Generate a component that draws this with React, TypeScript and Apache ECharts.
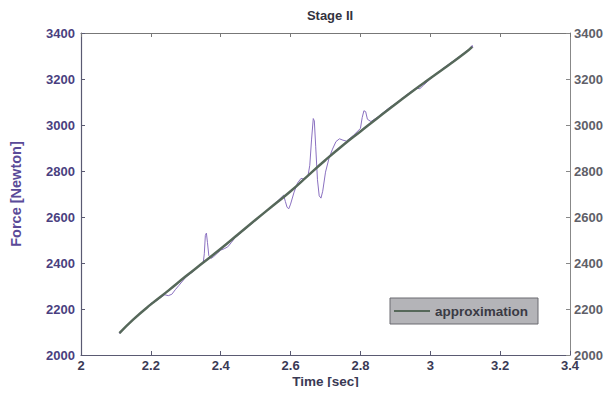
import React, { useEffect, useRef } from "react";
import * as echarts from "echarts";

const titleText = "Stage II";
const xName = "Time [sec]";
const yName = "Force [Newton]";
const legendName = "approximation";

const approxTime = [2.11, 2.15, 2.2, 2.25, 2.3, 2.35, 2.4, 2.45, 2.5, 2.55, 2.6, 2.65, 2.7, 2.75, 2.8, 2.85, 2.9, 2.95, 3.0, 3.05, 3.1, 3.12];
const approxForce = [2095, 2155, 2220, 2280, 2342, 2402, 2462, 2525, 2588, 2650, 2712, 2780, 2848, 2912, 2972, 3032, 3090, 3148, 3203, 3258, 3314, 3340];

const measTime = [
  2.11, 2.13, 2.16, 2.19, 2.2, 2.21, 2.22, 2.23, 2.24, 2.25, 2.26, 2.27, 2.28, 2.3, 2.32, 2.34,
  2.35, 2.353, 2.356, 2.359, 2.362, 2.366, 2.372, 2.38, 2.39, 2.4, 2.41, 2.42, 2.43, 2.44, 2.46,
  2.48, 2.5, 2.53, 2.56, 2.58, 2.585, 2.59, 2.595, 2.6, 2.61, 2.62, 2.63, 2.64, 2.65, 2.655, 2.66,
  2.665, 2.668, 2.672, 2.677, 2.682, 2.687, 2.692, 2.7, 2.71, 2.72, 2.73, 2.74, 2.75, 2.76, 2.78,
  2.8, 2.805, 2.81, 2.815, 2.82, 2.83, 2.85, 2.88, 2.91, 2.94, 2.96, 2.97, 2.98, 3.0, 3.04, 3.08,
  3.11, 3.12, 3.122,
];
const measForce = [
  2092, 2125, 2168, 2210, 2225, 2230, 2240, 2252, 2262, 2258, 2264, 2284, 2302, 2338, 2362, 2390,
  2402, 2440, 2520, 2530, 2490, 2432, 2420, 2428, 2442, 2456, 2462, 2470, 2488, 2508, 2534,
  2560, 2585, 2625, 2665, 2695, 2668, 2642, 2636, 2656, 2708, 2748, 2768, 2764, 2780, 2825, 2935,
  3028, 3018, 2905, 2762, 2692, 2682, 2712, 2795, 2855, 2895, 2928, 2940, 2934, 2930, 2955,
  2985, 3032, 3062, 3058, 3025, 3015, 3035, 3072, 3104, 3140, 3160, 3158, 3172, 3200, 3250, 3294,
  3328, 3346, 3336,
];

const xTicks = [2, 3.4, 0.2];
const yTicks = [2000, 3400, 200];

export default function App() {
  const ref = useRef<HTMLDivElement>(null);
  useEffect(() => {
    if (!ref.current) return;
    const chart = echarts.init(ref.current, undefined, { renderer: "svg" });
    const font = "Liberation Sans, Arial, sans-serif";
    const frame = "#5a5a72";
    const yFmt = (v: number) => String(Math.round(v));
    chart.setOption({
      animation: false,
      backgroundColor: "#ffffff",
      title: {
        text: titleText,
        left: 325,
        textAlign: "center",
        top: 4,
        textStyle: { fontFamily: font, fontSize: 13, fontWeight: "bold", color: "#333340" },
      },
      legend: {
        data: [{ name: legendName, icon: "rect" }],
        left: 390,
        top: 298,
        itemWidth: 36,
        itemHeight: 2,
        itemGap: 4,
        padding: [6, 10, 6, 4],
        backgroundColor: "#b4b4b8",
        borderColor: "#6a6a70",
        borderWidth: 1,
        borderRadius: 0,
        textStyle: { fontFamily: font, fontSize: 13.5, fontWeight: "bold", color: "#3a3a44" },
      },
      grid: { left: 80, right: 45, top: 33, bottom: 40 },
      xAxis: [
        {
          type: "value",
          min: xTicks[0],
          max: xTicks[1],
          interval: xTicks[2],
          name: xName,
          nameLocation: "middle",
          nameGap: 19,
          nameMoveOverlap: false,
          nameTextStyle: { fontFamily: font, fontSize: 13.5, fontWeight: "bold", color: "#3a3a55" },
          axisLine: { lineStyle: { color: frame, width: 1.2 } },
          axisTick: { inside: true, length: 4, lineStyle: { color: frame } },
          axisLabel: {
            margin: 4,
            fontFamily: font,
            fontSize: 13,
            fontWeight: "bold",
            color: "#3a3a55",
            formatter: (v: number) => String(Math.round(v * 10) / 10),
          },
          splitLine: { show: false },
        },
        {
          type: "value",
          position: "top",
          min: xTicks[0],
          max: xTicks[1],
          interval: xTicks[2],
          axisLine: { lineStyle: { color: "#777", width: 1 } },
          axisTick: { inside: true, length: 4, lineStyle: { color: "#777" } },
          axisLabel: { show: false },
          splitLine: { show: false },
        },
      ],
      yAxis: [
        {
          type: "value",
          min: yTicks[0],
          max: yTicks[1],
          interval: yTicks[2],
          name: yName,
          nameLocation: "middle",
          nameGap: 58,
          nameMoveOverlap: false,
          nameTextStyle: { fontFamily: font, fontSize: 14.5, fontWeight: "bold", color: "#5a4a98" },
          axisLine: { show: true, lineStyle: { color: frame, width: 1.2 } },
          axisTick: { show: true, inside: true, length: 4, lineStyle: { color: frame } },
          axisLabel: { margin: 6, fontFamily: font, fontSize: 13, fontWeight: "bold", color: "#4a3f80", formatter: yFmt },
          splitLine: { show: false },
        },
        {
          type: "value",
          position: "right",
          min: yTicks[0],
          max: yTicks[1],
          interval: yTicks[2],
          axisLine: { show: true, lineStyle: { color: "#888", width: 1 } },
          axisTick: { show: true, inside: true, length: 4, lineStyle: { color: "#888" } },
          axisLabel: { margin: 4, fontFamily: font, fontSize: 13, fontWeight: "bold", color: "#606068", formatter: yFmt },
          splitLine: { show: false },
        },
      ],
      series: [
        {
          name: "measured",
          type: "line",
          symbol: "none",
          xAxisIndex: 0,
          yAxisIndex: 0,
          data: measTime.map((t, i) => [t, measForce[i]]),
          lineStyle: { color: "#8a70c0", width: 1 },
          itemStyle: { color: "#8a70c0" },
          z: 2,
        },
        {
          name: legendName,
          type: "line",
          symbol: "none",
          smooth: true,
          xAxisIndex: 0,
          yAxisIndex: 0,
          data: approxTime.map((t, i) => [t, approxForce[i]]),
          lineStyle: { color: "#56685a", width: 2.5 },
          itemStyle: { color: "#56685a" },
          z: 3,
        },
      ],
    });
    return () => chart.dispose();
  }, []);
  return <div ref={ref} style={{ width: 615, height: 395, margin: -8 }} />;
}
